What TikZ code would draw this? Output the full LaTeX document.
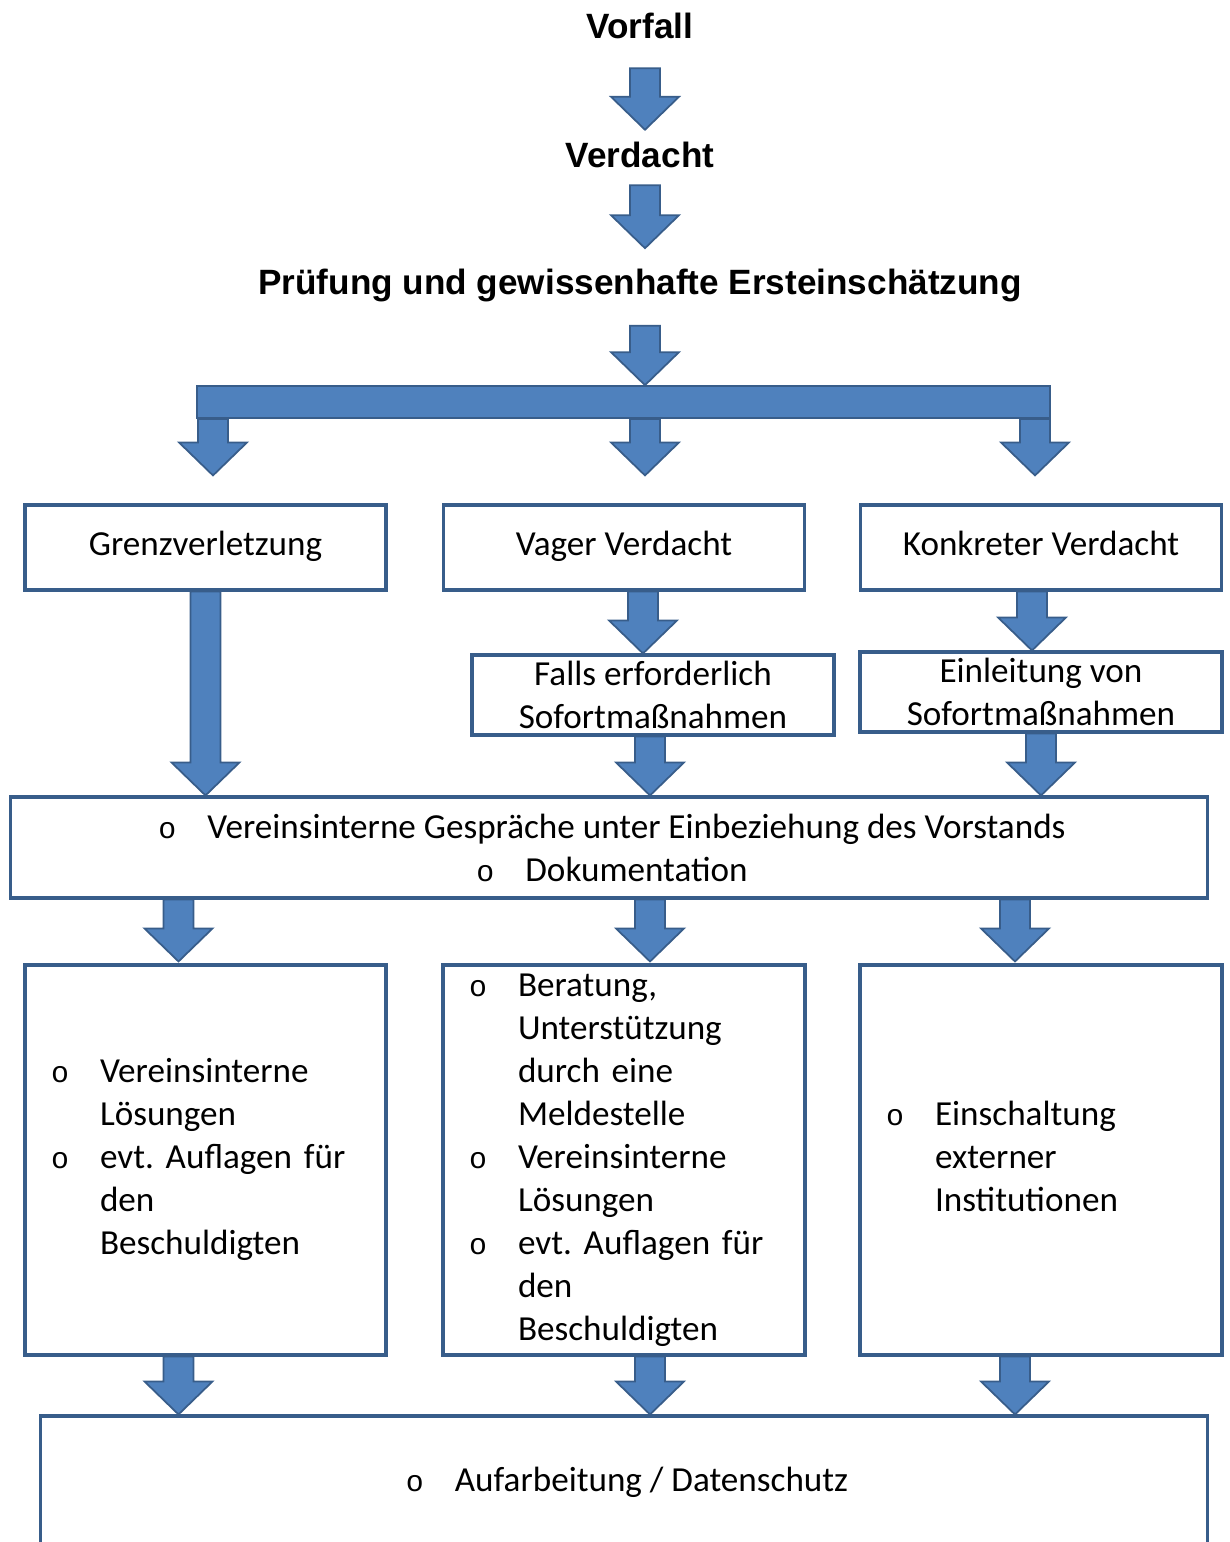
\documentclass[tikz,border=0pt]{standalone}
\usepackage{fontspec}
\setmainfont{Carlito}
\setmonofont{Liberation Mono}
\newfontfamily\titelfont{Liberation Sans}
\usepackage{tikz}
\usetikzlibrary{calc}
\frenchspacing

\definecolor{pfeilblau}{HTML}{4F81BD}
\definecolor{randblau}{HTML}{385D8A}

% bullet of the lists
\newcommand{\pkt}{\makebox[1.1cm][l]{\hspace{0.12cm}{\ttfamily\fontsize{17}{20}\selectfont o}}}

% block arrow: shaft from y of #1 down to the tip #2
\newcommand{\flowarrow}[2]{%
  \path (#1) coordinate (fa-s) (#2) coordinate (fa-e);
  \filldraw[blockpfeil] let \p1=(fa-s), \p2=(fa-e) in
    (\x2-0.3cm,\y1) -- (\x2-0.3cm,\y2+0.66cm) -- (\x2-0.68cm,\y2+0.66cm) -- (\x2,\y2)
    -- (\x2+0.68cm,\y2+0.66cm) -- (\x2+0.3cm,\y2+0.66cm) -- (\x2+0.3cm,\y1) -- cycle;}

\begin{document}
\begin{tikzpicture}[x=0.02cm, y=-0.02cm,
    titel/.style={font=\titelfont\bfseries\fontsize{20}{24}\selectfont, inner sep=0pt},
    kasten/.style={draw=randblau, line width=1.8pt, fill=white, inner sep=0pt,
      font=\fontsize{20}{24.5}\selectfont, align=center},
    stufe/.style={kasten, minimum width=7.22cm, minimum height=1.7cm, text height=17pt, text depth=7.4pt},
    blockpfeil/.style={fill=pfeilblau, draw=randblau, line width=1pt, line join=miter}]
    \useasboundingbox (0,0) rectangle (1230,1542);

    % Titles
    \node[titel] (vorfall) at (640,26) {Vorfall};
    \node[titel] (verdacht) at (640,155) {Verdacht};
    \node[titel] (pruefung) at (640,285) {Prüfung und gewissenhafte Ersteinschätzung};

    % Distribution bar
    \node[blockpfeil, minimum width=17.06cm, minimum height=0.64cm, inner sep=0pt] (verteiler) at (623.5,402) {};

    % First row
    \node[stufe] (grenz) at (205.5,547.5) {Grenzverletzung};
    \node[stufe] (vager) at (624,547.5) {Vager Verdacht};
    \node[stufe] (konkret) at (1041,547.5) {Konkreter Verdacht};

    % Immediate measures
    \node[kasten, minimum width=7.24cm, minimum height=1.6cm] (falls) at (653,695) {Falls erforderlich\\Sofortmaßnahmen};
    \node[kasten, minimum width=7.24cm, minimum height=1.6cm] (einleitung) at (1041,692) {Einleitung von\\Sofortmaßnahmen};

    % Talks
    \node[kasten, minimum width=23.96cm, minimum height=2.02cm] (gespraeche) at (609,847.5)
      {\pkt Vereinsinterne Gespräche unter Einbeziehung des Vorstands\\\pkt Dokumentation};

    % Third row
    \node[kasten, minimum width=7.22cm, minimum height=7.8cm, text width=6.42cm, align=left] (links) at (205.5,1160)
      {\begin{tabular}{@{}p{1.1cm}@{}l@{}}
        \pkt & Vereinsinterne\\ & Lösungen\\
        \pkt & evt. Auflagen für\\ & den\\ & Beschuldigten
      \end{tabular}};
    \node[kasten, minimum width=7.24cm, minimum height=7.8cm, text width=6.44cm, align=left] (mitte) at (624,1160)
      {\begin{tabular}{@{}p{1.1cm}@{}l@{}}
        \pkt & Beratung,\\ & Unterstützung\\ & durch eine\\ & Meldestelle\\
        \pkt & Vereinsinterne\\ & Lösungen\\
        \pkt & evt. Auflagen für\\ & den\\ & Beschuldigten
      \end{tabular}};
    \node[kasten, minimum width=7.24cm, minimum height=7.8cm, text width=6.44cm, align=left] (rechts) at (1041,1160)
      {\begin{tabular}{@{}p{1.1cm}@{}l@{}}
        \pkt & Einschaltung\\ & externer\\ & Institutionen
      \end{tabular}};

    % Last box
    \node[kasten, minimum width=23.36cm, minimum height=2.64cm] (abschluss) at (624,1482) {\pkt Aufarbeitung / Datenschutz};

    % Arrows
    \flowarrow{$(vorfall.south)+(5,29)$}{$(verdacht.north)+(5,-12)$}
    \flowarrow{$(verdacht.south)+(5,17)$}{$(pruefung.north)+(5,-20)$}
    \flowarrow{$(pruefung.south)+(5,24)$}{$(verteiler.north)+(21.5,0)$}
    \flowarrow{verteiler.south}{$(grenz.north)+(7.5,-28)$}
    \flowarrow{verteiler.south}{$(vager.north)+(21,-28)$}
    \flowarrow{verteiler.south}{$(konkret.north)+(-6,-28)$}
    \node[blockpfeil, minimum width=17.06cm, minimum height=0.64cm, inner sep=0pt] at (verteiler) {};

    \flowarrow{grenz.south}{gespraeche.north -| grenz.south}
    \flowarrow{vager.south}{$(falls.north)+(-10,0)$}
    \flowarrow{konkret.south}{$(einleitung.north)+(-9,0)$}
    \flowarrow{falls.south}{$(gespraeche.north -| falls.south)+(-3,0)$}
    \flowarrow{einleitung.south}{gespraeche.north -| einleitung.south}

    \flowarrow{gespraeche.south}{$(links.north)+(-27,-2)$}
    \flowarrow{gespraeche.south}{$(mitte.north)+(26,-2)$}
    \flowarrow{gespraeche.south}{$(rechts.north)+(-26,-2)$}

    \flowarrow{links.south}{$(abschluss.north -| links.north)+(-27,0)$}
    \flowarrow{mitte.south}{$(abschluss.north -| mitte.north)+(26,0)$}
    \flowarrow{rechts.south}{$(abschluss.north -| rechts.north)+(-26,0)$}
\end{tikzpicture}
\end{document}
